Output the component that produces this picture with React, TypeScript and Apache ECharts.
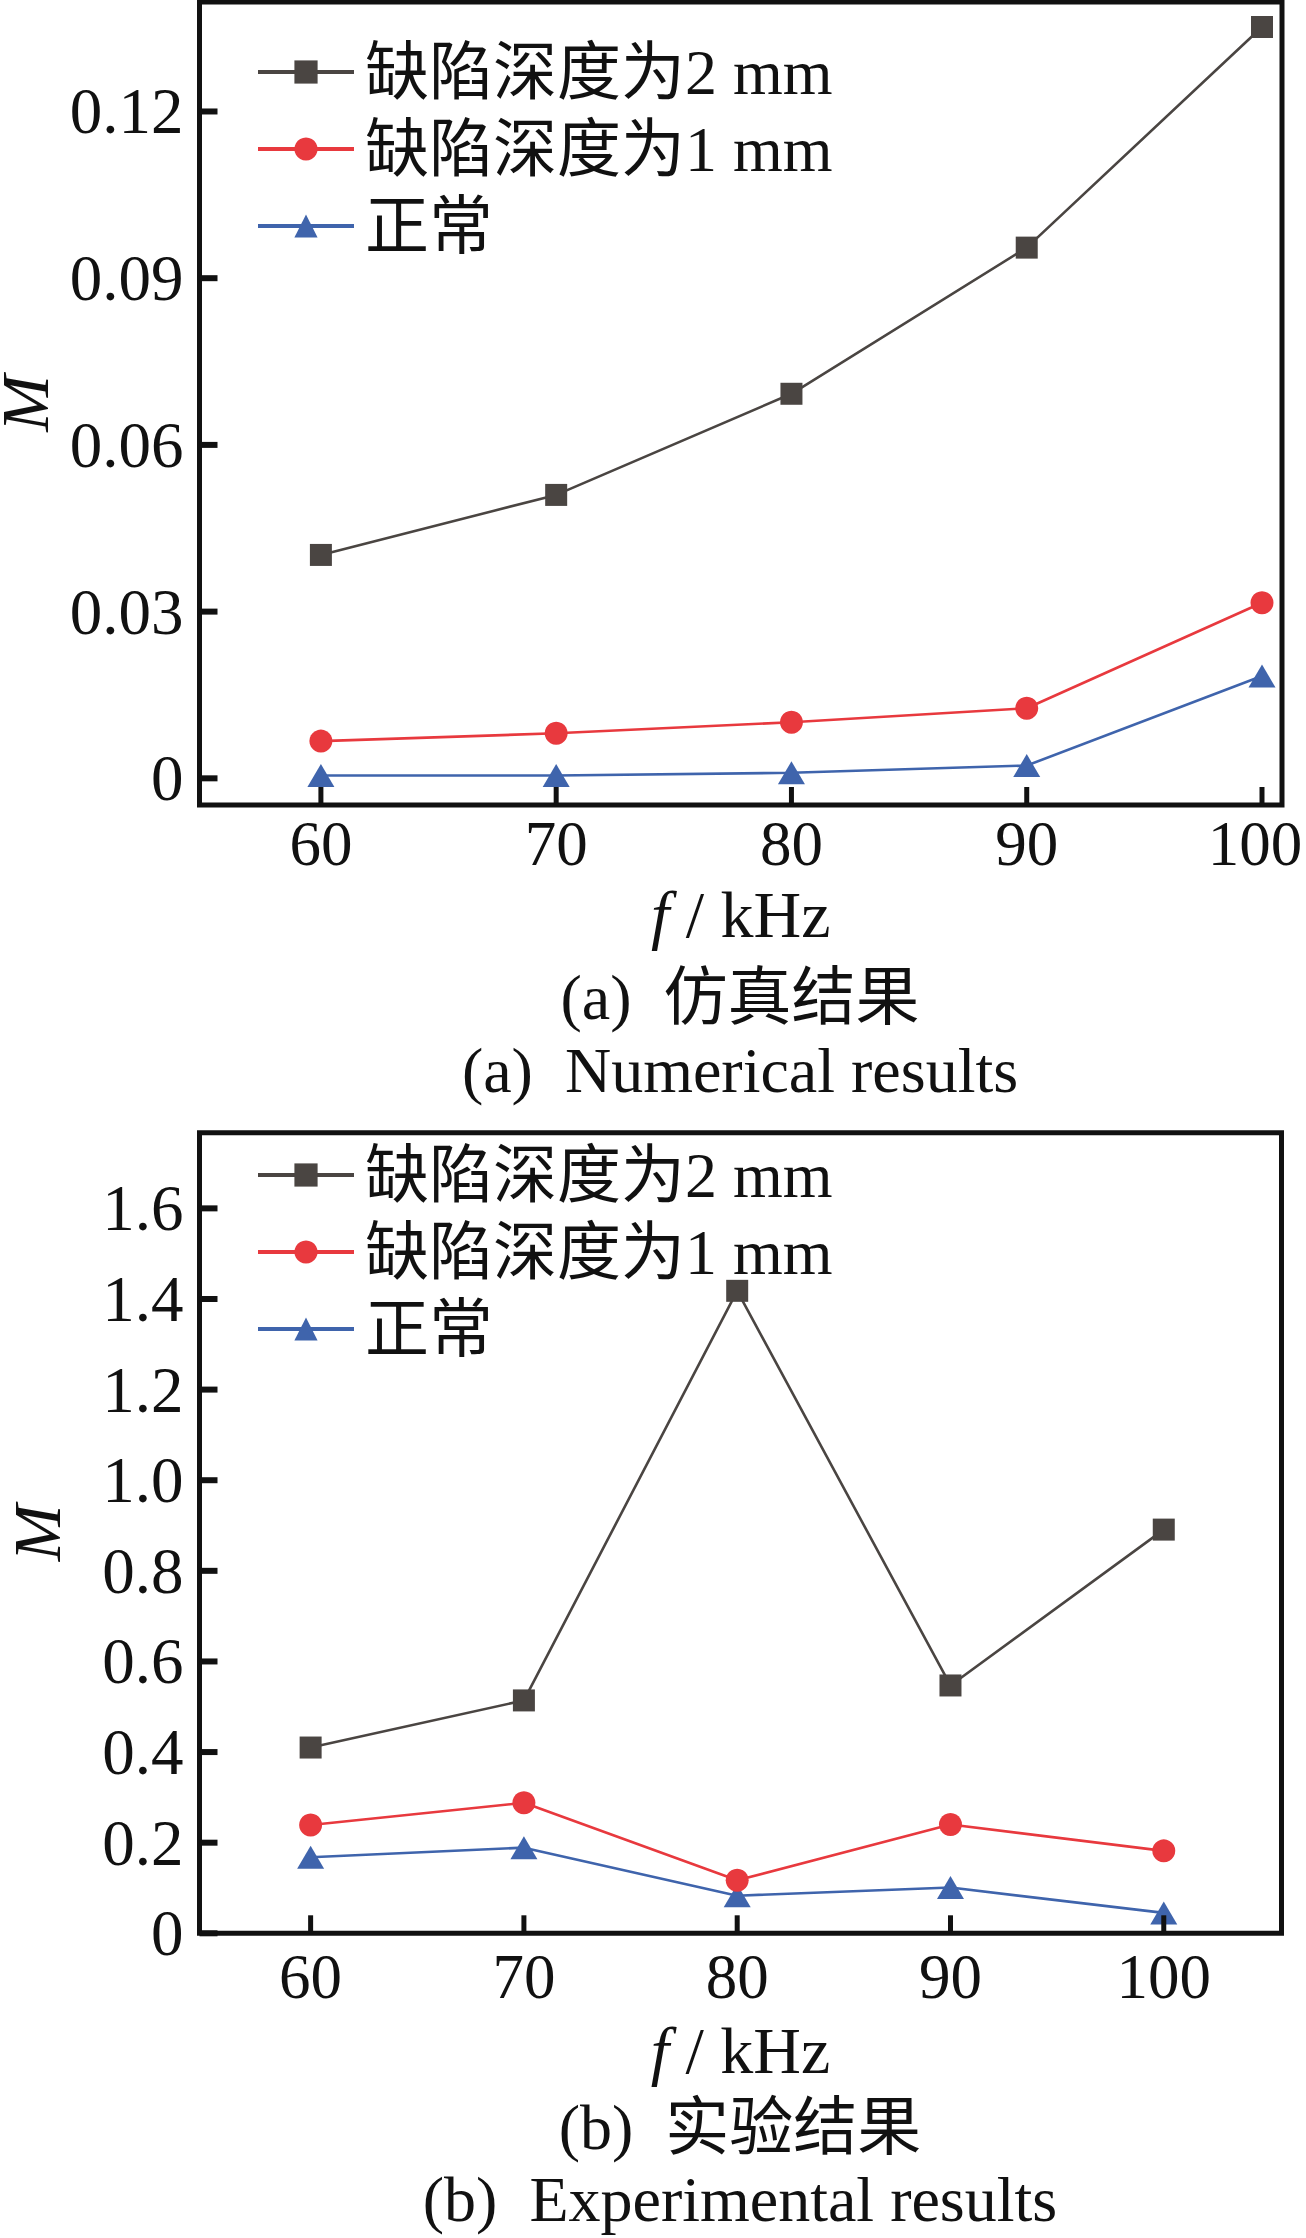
import React, { useEffect, useRef } from 'react';
import * as echarts from 'echarts';

// ---------- data ----------
const freqs = [60, 70, 80, 90, 100];
const seriesNames = ['缺陷深度为2 mm', '缺陷深度为1 mm', '正常'];

const simDepth2 = [0.0402, 0.051, 0.0692, 0.0955, 0.1352];
const simDepth1 = [0.0067, 0.0081, 0.0101, 0.0126, 0.0316];
const simNormal = [0.0005, 0.0005, 0.001, 0.0023, 0.0184];

const expDepth2 = [0.41, 0.514, 1.418, 0.547, 0.891];
const expDepth1 = [0.239, 0.288, 0.117, 0.24, 0.182];
const expNormal = [0.168, 0.189, 0.083, 0.101, 0.045];

const xTickValues = [60, 70, 80, 90, 100];
const simYTicks = [0, 0.03, 0.06, 0.09, 0.12];
const expYTicks = [0, 0.2, 0.4, 0.6, 0.8, 1.0, 1.2, 1.4, 1.6];

const captionsCN = ['(a)  仿真结果', '(b)  实验结果'];
const captionsEN = ['(a)  Numerical results', '(b)  Experimental results'];

// ---------- styles ----------
const FONT = "'Liberation Serif', 'Times New Roman', 'Noto Sans CJK SC', serif";
const INK = '#111111';
const COLORS = ['#4a4542', '#e8393e', '#3f64ac'];
const SYMBOLS = ['rect', 'circle', 'triangle'];
const SYMBOL_SIZES: any[] = [22, 23, [27, 23]];

const pairs = (ys: number[]) => freqs.map((f, i) => [f, ys[i]]);

function App() {
  const ref = useRef<HTMLDivElement>(null);

  useEffect(() => {
    if (!ref.current) return;
    const chart = echarts.init(ref.current, null, { renderer: 'svg' });

    const grids = [
      { left: 199.5, top: 2, width: 1082.5, height: 803 },
      { left: 199.5, top: 1132.7, width: 1082, height: 800.6 },
    ];
    const xRanges = [
      [54.84, 100.85],
      [54.79, 105.52],
    ];
    const yRanges = [
      [-0.0048, 0.1397],
      [0, 1.767],
    ];
    const yTicks = [simYTicks, expYTicks];
    const yFmt = [
      (v: number) => (v === 0 ? '0' : v.toFixed(2)),
      (v: number) => (v === 0 ? '0' : v.toFixed(1)),
    ];
    const xFmt = [
      (v: number) => (v === 100 ? `{r|${v}}` : `${v}`),
      (v: number) => `${v}`,
    ];
    const xLabelMargin = [7, 12];
    const xNameGap = [76, 84];
    const legendTops = [40, 1143];
    const data = [
      [simDepth2, simDepth1, simNormal],
      [expDepth2, expDepth1, expNormal],
    ];

    const option: any = {
      animation: false,
      backgroundColor: '#ffffff',
      grid: grids.map((g) => ({
        ...g,
        show: true,
        borderColor: INK,
        borderWidth: 5,
        backgroundColor: 'transparent',
        containLabel: false,
        outerBoundsMode: 'none',
      })),
      xAxis: grids.map((_, gi) => ({
        type: 'value',
        gridIndex: gi,
        min: xRanges[gi][0],
        max: xRanges[gi][1],
        axisLine: { show: false, onZero: false },
        splitLine: { show: false },
        axisTick: { show: false },
        axisLabel: {
          show: true,
          customValues: xTickValues,
          formatter: xFmt[gi],
          margin: xLabelMargin[gi],
          fontFamily: FONT,
          fontSize: 63,
          color: INK,
          hideOverlap: false,
          rich: {
            r: { fontFamily: FONT, fontSize: 63, color: INK, padding: [0, 14, 0, 0] },
          },
        },
        name: '{i|f} / kHz',
        nameLocation: 'middle',
        nameGap: xNameGap[gi],
        nameTextStyle: {
          fontFamily: FONT,
          fontSize: 66,
          color: INK,
          rich: {
            i: { fontFamily: FONT, fontStyle: 'italic', fontSize: 66, color: INK },
          },
        },
      })),
      yAxis: grids.map((_, gi) => ({
        type: 'value',
        gridIndex: gi,
        min: yRanges[gi][0],
        max: yRanges[gi][1],
        axisLine: { show: false, onZero: false },
        splitLine: { show: false },
        axisTick: { show: false },
        axisLabel: {
          show: true,
          customValues: yTicks[gi],
          formatter: yFmt[gi],
          margin: 16,
          fontFamily: FONT,
          fontSize: 65,
          color: INK,
        },
        name: 'M',
        nameLocation: 'middle',
        nameRotate: 90,
        nameGap: 129,
        nameTextStyle: {
          fontFamily: FONT,
          fontStyle: 'italic',
          fontSize: 68,
          color: INK,
        },
      })),
      legend: grids.map((_, gi) => ({
        show: true,
        orient: 'vertical',
        left: 256,
        top: legendTops[gi],
        padding: 0,
        itemGap: 13,
        itemWidth: 96,
        itemHeight: 29,
        data: seriesNames.map((n) => n + (gi === 0 ? '' : '\u200b')),
        lineStyle: { width: 4 },
        textStyle: {
          fontFamily: FONT,
          fontSize: 64,
          lineHeight: 64,
          color: INK,
          padding: [0, 0, 0, 6],
        },
      })),
      series: [] as any[],
      graphic: [] as any[],
    };

    // inward tick marks, placed through the axes' own scales
    grids.forEach((_, gi) => {
      const yMin = yRanges[gi][0];
      const xMin = xRanges[gi][0];
      option.series.push({
        type: 'custom',
        name: 'xticks' + gi,
        coordinateSystem: 'cartesian2d',
        xAxisIndex: gi,
        yAxisIndex: gi,
        silent: true,
        clip: false,
        z: 10,
        data: xTickValues.map((v) => [v, yMin]),
        renderItem: (_p: any, api: any) => {
          const pt = api.coord([api.value(0), api.value(1)]);
          return {
            type: 'rect',
            shape: { x: pt[0] - 2.5, y: pt[1] - 18, width: 5, height: 18 },
            style: { fill: INK },
          };
        },
      });
      option.series.push({
        type: 'custom',
        name: 'yticks' + gi,
        coordinateSystem: 'cartesian2d',
        xAxisIndex: gi,
        yAxisIndex: gi,
        silent: true,
        clip: false,
        z: 10,
        data: yTicks[gi].map((v) => [xMin, v]),
        renderItem: (_p: any, api: any) => {
          const pt = api.coord([api.value(0), api.value(1)]);
          return {
            type: 'rect',
            shape: { x: pt[0], y: pt[1] - 3, width: 18, height: 6 },
            style: { fill: INK },
          };
        },
      });
    });

    data.forEach((group, gi) => {
      group.forEach((ys, si) => {
        option.series.push({
          type: 'line',
          name: seriesNames[si] + (gi === 0 ? '' : '\u200b'),
          xAxisIndex: gi,
          yAxisIndex: gi,
          data: pairs(ys),
          symbol: SYMBOLS[si],
          symbolSize: SYMBOL_SIZES[si],
          showSymbol: true,
          lineStyle: { color: COLORS[si], width: 2.6 },
          itemStyle: { color: COLORS[si] },
          z: 3 - si + 2,
        });
      });
    });

    const capCN = [997, 2127];
    const capEN = [1070, 2199];
    [0, 1].forEach((gi) => {
      option.graphic.push({
        type: 'text',
        x: 740,
        y: capCN[gi],
        style: {
          text: captionsCN[gi],
          font: `64px ${FONT}`,
          fill: INK,
          align: 'center',
          verticalAlign: 'middle',
        },
      });
      option.graphic.push({
        type: 'text',
        x: 740,
        y: capEN[gi],
        style: {
          text: captionsEN[gi],
          font: `64px ${FONT}`,
          fill: INK,
          align: 'center',
          verticalAlign: 'middle',
        },
      });
    });

    chart.setOption(option);
    return () => {
      chart.dispose();
    };
  }, []);

  return (
    <div
      ref={ref}
      style={{ position: 'absolute', left: 0, top: 0, width: 1306, height: 2238, background: '#fff' }}
    />
  );
}

export default App;
